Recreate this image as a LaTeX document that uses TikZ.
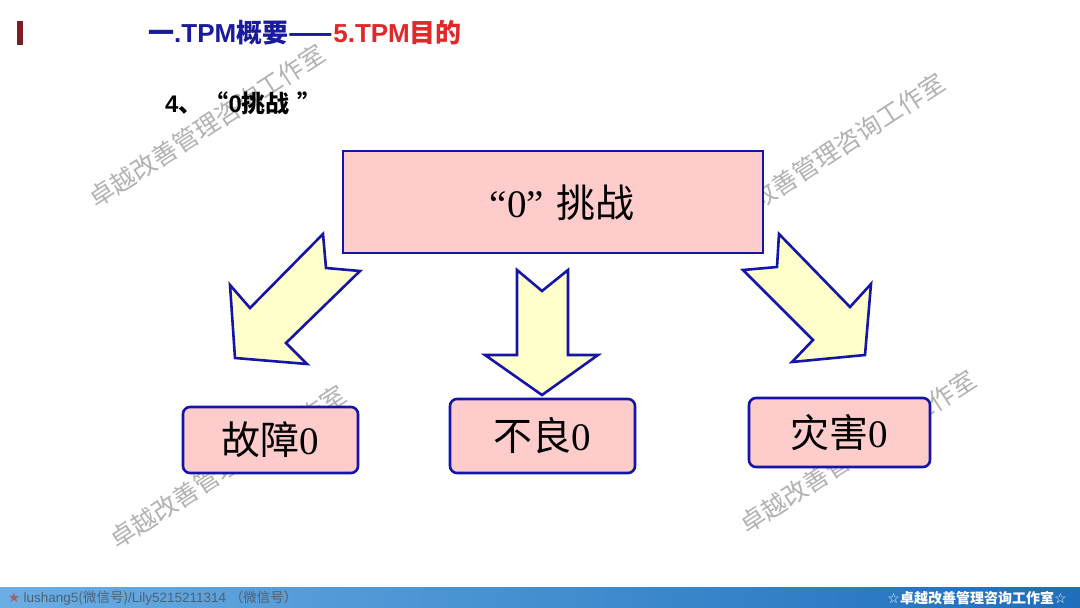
\documentclass[tikz,border=0pt]{standalone}
\usepackage{fontspec}
\setmainfont{Liberation Serif}
\newfontfamily\cjk{Noto Sans CJK SC}
\newfontfamily\lsans{Liberation Sans}
\newfontfamily\dejavu{DejaVu Sans}
\definecolor{bdr}{HTML}{1414A8}
\definecolor{pinkf}{HTML}{FFCCCC}
\definecolor{yel}{HTML}{FFFFCC}
\definecolor{tblue}{HTML}{1A1A9C}
\definecolor{tred}{HTML}{E02828}
\definecolor{accent}{HTML}{7A1E22}
\definecolor{barL}{HTML}{6AAEE4}
\definecolor{barM}{HTML}{E2F0FA}
\definecolor{barR}{HTML}{1E6EBC}
\definecolor{foot}{HTML}{4E6074}
\tikzset{
  boxnode/.style={draw=bdr, fill=pinkf, line width=2.6pt, rounded corners=7pt, inner sep=0pt},
  mainbox/.style={draw=bdr, fill=pinkf, line width=2.6pt, inner sep=0pt},
  blockarrow/.style={draw=bdr, fill=yel, line width=2.6pt, line join=miter},
  wm/.style={text=black!30, font=\cjk\fontsize{25}{25}\selectfont, rotate=33, inner sep=0pt},
  boxtext/.style={font=\fontsize{39}{39}\selectfont},
  titletext/.style={anchor=base west, inner sep=0pt, font=\cjk\bfseries\fontsize{26}{26}\selectfont}
}
\begin{document}
\begin{tikzpicture}[x=1pt,y=-1pt]
\useasboundingbox (0,0) rectangle (1080,608);
\fill[white] (0,0) rectangle (1080,608);
% watermarks
\node[wm] (wm1) at (207,126) {卓越改善管理咨询工作室};
\node[wm] (wm2) at (827,155) {卓越改善管理咨询工作室};
\node[wm] (wm3) at (228,467) {卓越改善管理咨询工作室};
\node[wm] (wm4) at (858,452) {卓越改善管理咨询工作室};
% header
\fill[accent] (17,21) rectangle (23,45);
\node[titletext, text=tblue] (t1) at (148,42) {一{\lsans .TPM}概要——};
\node[titletext, text=tred] (t2) at (t1.base east) {{\lsans 5.TPM}目的};
\node[anchor=base west, inner sep=0pt, font=\cjk\bfseries\fontsize{24}{24}\selectfont] (sub) at (165,112) {{\lsans 4}、\hspace{2pt}“{\lsans 0}挑战\hspace{8pt}”};
% arrows
\draw[blockarrow] (323,234) -- (250,308) -- (230,285) -- (235,358) -- (307,364) -- (286,343) -- (360,271) -- (326,268) -- cycle;
\draw[blockarrow] (517,270) -- (542,291) -- (568,270) -- (568,355) -- (598,355) -- (542,395) -- (485,355) -- (517,355) -- cycle;
\draw[blockarrow] (779,234) -- (850,307) -- (871,284) -- (865,355) -- (792,362) -- (813,340) -- (743,270) -- (777,267) -- cycle;
% boxes
\node[mainbox, minimum width=420pt, minimum height=102pt] (main) at (553,202) {};
\node[boxtext] (maint) at (562,203) {“0”\hspace{12pt}{\cjk 挑战}};
\node[boxnode, minimum width=175pt, minimum height=66pt] (b1) at (270.5,440) {};
\node[boxtext] (b1t) at (b1.center) {{\cjk 故障}0};
\node[boxnode, minimum width=185pt, minimum height=74pt] (b2) at (542.5,436) {};
\node[boxtext] (b2t) at (b2.center) {{\cjk 不良}0};
\node[boxnode, minimum width=181pt, minimum height=69pt] (b3) at (839.5,432.5) {};
\node[boxtext] (b3t) at (b3.center) {{\cjk 灾害}0};
% footer
\shade[left color=barL, middle color=barM, right color=barR] (0,587) rectangle (1080,608);
\node[anchor=west, inner sep=0pt, text=foot, font=\fontsize{13.5}{13.5}\selectfont] (fl) at (8,598) {{\dejavu\color{accent!70}★} {\lsans lushang5}{\cjk (微信号)}{\lsans /Lily5215211314 }{\cjk （微信号）}};
\node[inner sep=0pt, text=white, font=\cjk\bfseries\fontsize{14}{14}\selectfont] (fr) at (977,598) {{\dejavu ☆}卓越改善管理咨询工作室{\dejavu ☆}};
\end{tikzpicture}
\end{document}
